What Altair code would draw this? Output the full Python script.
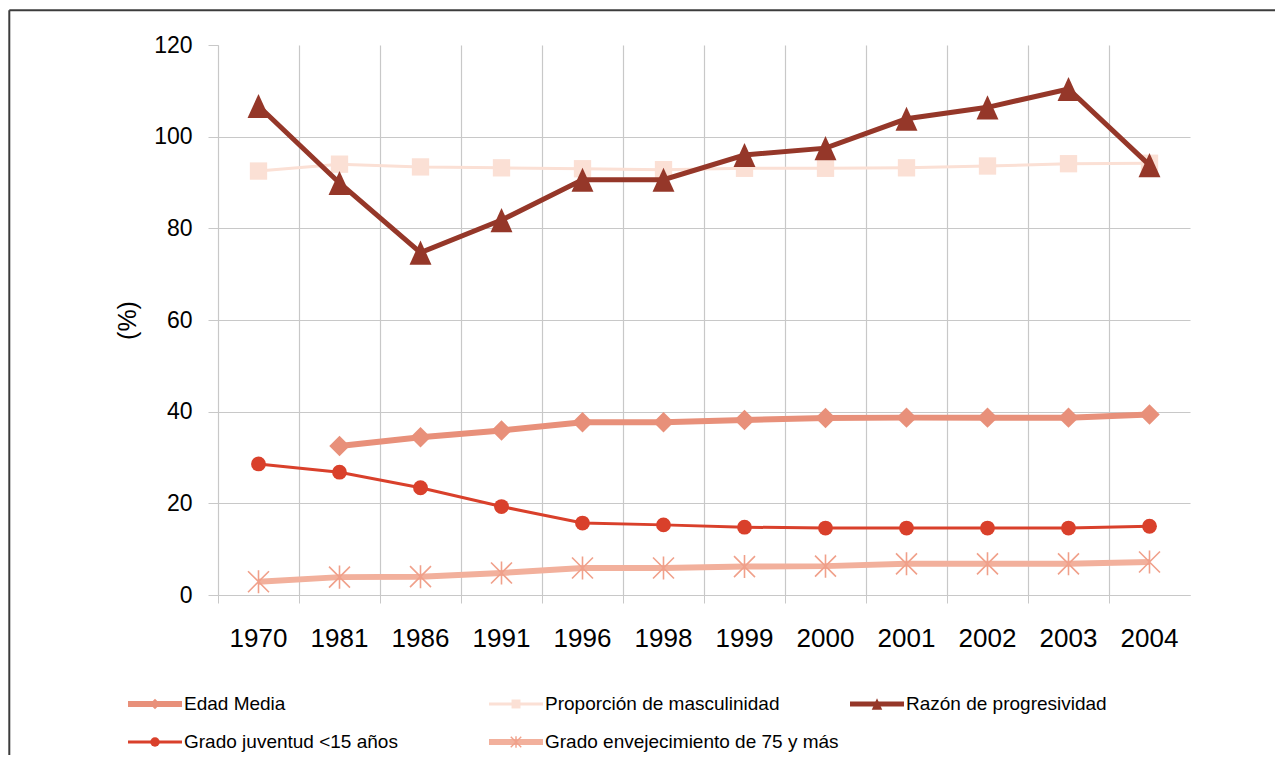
import altair as alt
import pandas as pd

# ---------------- data ----------------
years = ["1970", "1981", "1986", "1991", "1996", "1998", "1999", "2000", "2001", "2002", "2003", "2004"]
edad_media = [None, 32.5, 34.4, 35.9, 37.7, 37.7, 38.2, 38.6, 38.7, 38.7, 38.7, 39.4]
masculinidad = [92.5, 94.0, 93.4, 93.2, 93.0, 92.8, 93.1, 93.1, 93.2, 93.6, 94.1, 94.2]
progresividad = [106.7, 89.9, 74.7, 81.8, 90.6, 90.6, 96.0, 97.5, 103.9, 106.4, 110.4, 93.8]
juventud = [28.6, 26.8, 23.4, 19.3, 15.7, 15.3, 14.8, 14.6, 14.6, 14.6, 14.6, 15.0]
envejecimiento = [2.9, 3.9, 4.0, 4.8, 5.9, 5.9, 6.2, 6.3, 6.8, 6.8, 6.8, 7.2]

series_names = [
    "Edad Media",
    "Proporción de masculinidad",
    "Razón de progresividad",
    "Grado juventud <15 años",
    "Grado envejecimiento de 75 y más",
]
series_values = [edad_media, masculinidad, progresividad, juventud, envejecimiento]
legend_col = [0, 1, 2, 0, 1]
legend_row = [0, 0, 0, 1, 1]

# ---------------- styles ----------------
FONT = "Liberation Sans, Arial, sans-serif"
GRID = "#c8c8c8"
TRI = "M0,-1.1L1,1.1L-1,1.1Z"
ASTER = "M-1,-1L1,1M-1,1L1,-1M0,-1.1L0,1.1"
styles = {
    "Edad Media": dict(color="#e8907a", width=6, shape="diamond", size=420, lsize=110, filled=True),
    "Proporción de masculinidad": dict(color="#fbe0d5", width=3, shape="square", size=300, lsize=80, filled=True),
    "Razón de progresividad": dict(color="#953729", width=5, shape=TRI, size=480, lsize=110, filled=True),
    "Grado juventud <15 años": dict(color="#d9402b", width=3, shape="circle", size=220, lsize=90, filled=True),
    "Grado envejecimiento de 75 y más": dict(color="#f2b09c", width=6, shape=ASTER, size=440, lsize=110,
                                             filled=False, pcolor="#f0a08a"),
}
draw_order = [
    "Proporción de masculinidad",
    "Grado envejecimiento de 75 y más",
    "Grado juventud <15 años",
    "Edad Media",
    "Razón de progresividad",
]

rows = []
for name, vals in zip(series_names, series_values):
    for y, v in zip(years, vals):
        rows.append({"series": name, "year": y, "value": v})
df = pd.DataFrame(rows)

leg_df = pd.DataFrame({"series": series_names, "col": legend_col, "row": legend_row})

W, H = 972, 550

X = alt.X(
    "year:O",
    sort=years,
    scale=alt.Scale(type="band", paddingInner=0, paddingOuter=0),
    axis=alt.Axis(
        title=None,
        bandPosition=0,
        labelAngle=0,
        labelFont=FONT,
        labelFontSize=26,
        labelColor="#000000",
        labelPadding=22,
        tickSize=8,
        tickColor=GRID,
        domainColor=GRID,
        grid=True,
        gridColor=GRID,
        gridWidth=1.2,
    ),
)
Y = alt.Y(
    "value:Q",
    scale=alt.Scale(domain=[0, 120], nice=False),
    axis=alt.Axis(
        title="(%)",
        titleFont=FONT,
        titleFontSize=25,
        titleFontWeight="normal",
        titleColor="#000000",
        titlePadding=13,
        values=[0, 20, 40, 60, 80, 100, 120],
        labelFont=FONT,
        labelFontSize=23,
        labelColor="#000000",
        labelPadding=16,
        tickSize=10,
        tickColor=GRID,
        domainColor=GRID,
        grid=True,
        gridColor=GRID,
        gridWidth=1.2,
        gridOpacity={"condition": {"test": "datum.value >= 120", "value": 0}, "value": 1},
    ),
)

series_layers = []
for name in draw_order:
    s = styles[name]
    base = alt.Chart(df).transform_filter(alt.datum.series == name).transform_filter("isValid(datum.value)")
    line = base.mark_line(color=s["color"], strokeWidth=s["width"]).encode(x=X, y=Y)
    pt = base.mark_point(
        shape=s["shape"],
        size=s["size"],
        filled=s["filled"],
        color=s.get("pcolor", s["color"]),
        opacity=1,
        strokeWidth=1.6 if not s["filled"] else 0,
    ).encode(x=X, y=Y)
    series_layers += [line, pt]
plot = alt.layer(*series_layers)

# ---------------- legend (own scales, below the plot) ----------------
LX = alt.X("col:Q", scale=alt.Scale(domain=[0.2493, 2.9418], nice=False, zero=False), axis=None)
LY = alt.Y("row:Q", scale=alt.Scale(domain=[-17.342, -2.868], nice=False, zero=False, reverse=True), axis=None)
leg_layers = []
for name in series_names:
    s = styles[name]
    b = alt.Chart(leg_df).transform_filter(alt.datum.series == name)
    leg_layers.append(
        b.mark_rule(color=s["color"], strokeWidth=s["width"], x2Offset=54).encode(x=LX, x2="col:Q", y=LY)
    )
    leg_layers.append(
        b.mark_point(
            shape=s["shape"], size=s["lsize"], filled=s["filled"], color=s.get("pcolor", s["color"]),
            opacity=1, strokeWidth=1.4 if not s["filled"] else 0, xOffset=27,
        ).encode(x=LX, y=LY)
    )
    leg_layers.append(
        b.mark_text(align="left", baseline="middle", dx=56, font=FONT, fontSize=19, color="#000000").encode(
            x=LX, y=LY, text="series:N"
        )
    )
legend = alt.layer(*leg_layers)

# ---------------- frame (left and top edges, as in the cropped original) ----------------
one = pd.DataFrame({"k": [0]})
FRAME_TOP = -34.8
frame_left = alt.Chart(one).mark_rule(color="#3c3c3c", strokeWidth=2).encode(
    x=alt.value(-208.7), y=alt.value(FRAME_TOP), y2=alt.value(H + 160)
)
frame_top = alt.Chart(one).mark_rule(color="#3c3c3c", strokeWidth=2).encode(
    x=alt.value(-208.7), x2=alt.value(W + 85), y=alt.value(FRAME_TOP)
)

chart = (
    alt.layer(frame_left, frame_top, plot, legend)
    .resolve_scale(x="independent", y="independent")
    .properties(width=W, height=H, padding={"left": 0, "top": 1, "right": 0, "bottom": 0}, background="white")
    .configure_view(stroke=None)
)

chart.save("out.html", embed_options={"renderer": "svg", "actions": False})
